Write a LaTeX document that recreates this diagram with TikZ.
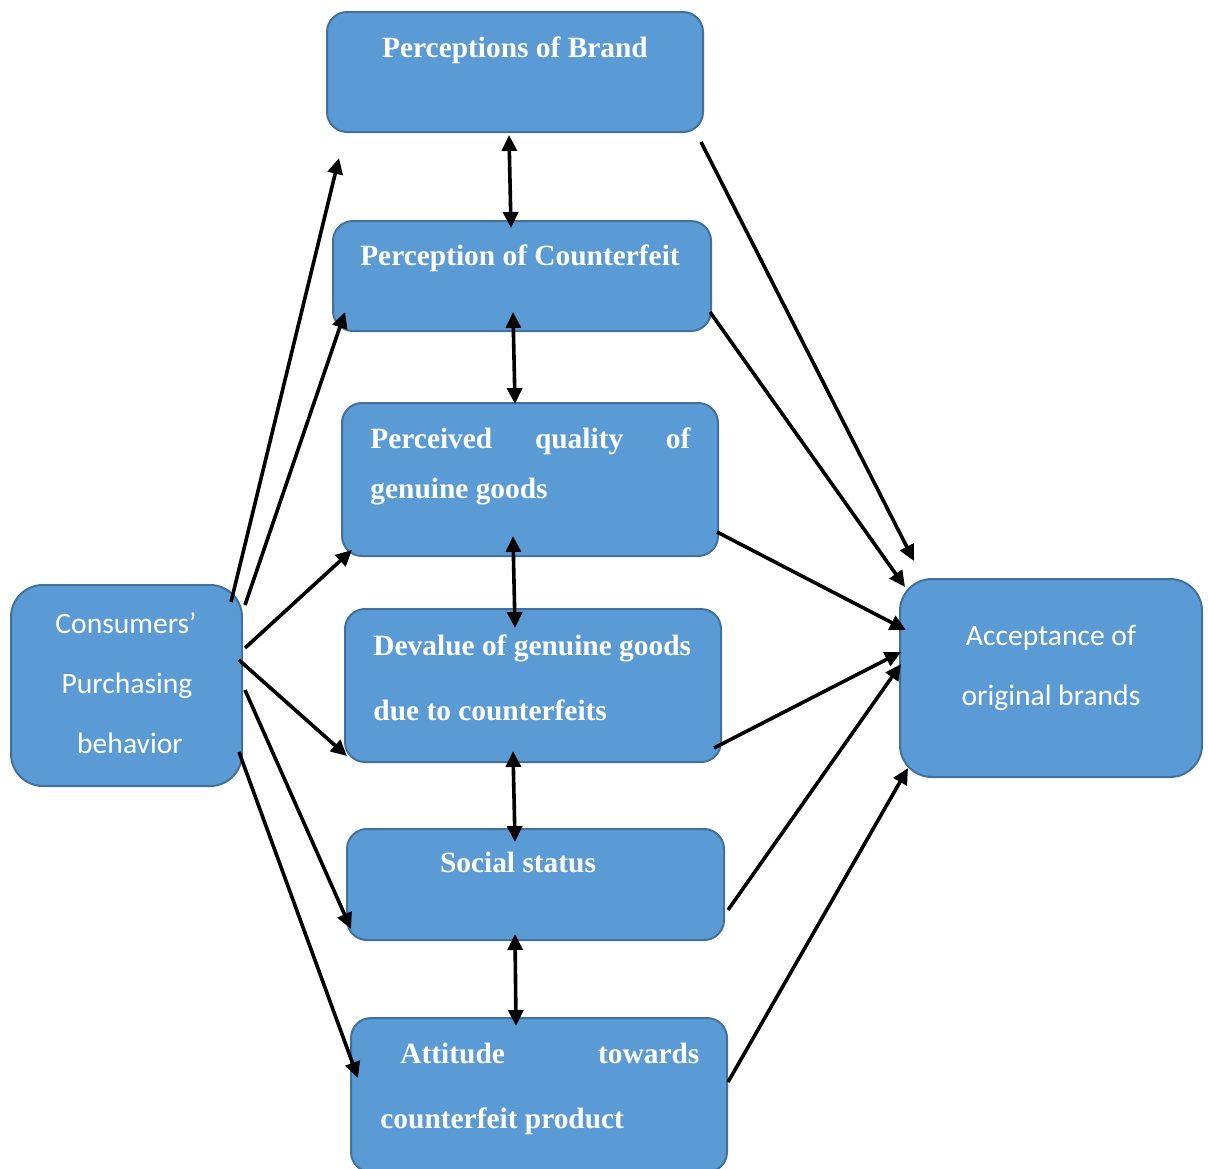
\documentclass[tikz,border=0pt]{standalone}
\usepackage{fontspec}
\setmainfont{Liberation Serif}
\newfontfamily\calibri{Carlito}
\usetikzlibrary{arrows.meta,calc}

\definecolor{boxfill}{HTML}{5B9BD5}
\definecolor{boxline}{HTML}{41719C}

\tikzset{
    box/.style={draw=boxline, line width=1pt, fill=boxfill, rounded corners=10pt, inner sep=0pt},
    bigbox/.style={box, rounded corners=16pt},
    txt/.style={text=white, font=\fontsize{14.7}{17}\selectfont\bfseries, inner sep=0pt},
    stxt/.style={text=white, font=\calibri\fontsize{14.8}{17}\selectfont, inner sep=0pt},
    conn/.style={line width=1.8pt, -{Triangle[length=8pt,width=7.5pt]}},
    biconn/.style={conn, {Triangle[length=8pt,width=7.5pt]}-{Triangle[length=8pt,width=7.5pt]}},
}

\begin{document}
\begin{tikzpicture}[x=0.5pt, y=-0.5pt]
    \useasboundingbox (0,0) rectangle (1208,1168);

    % Kaesten in der Mitte
    \node[box, minimum width=188pt, minimum height=60pt]   (brand)  at (515,72)      {};
    \node[box, minimum width=189pt, minimum height=55pt]   (cntf)   at (522,276)     {};
    \node[box, minimum width=188pt, minimum height=76.5pt] (qual)   at (530,479.5)   {};
    \node[box, minimum width=188pt, minimum height=76.5pt] (deval)  at (533,685.5)   {};
    \node[box, minimum width=188.5pt, minimum height=55.5pt] (social) at (535.5,884.5) {};
    \node[box, minimum width=188pt, minimum height=77pt]   (att)    at (539,1095)    {};

    % links und rechts
    \node[bigbox, minimum width=115.5pt, minimum height=100.5pt] (cpb) at (126.5,685.5) {};
    \node[bigbox, minimum width=151pt, minimum height=99pt]      (acc) at (1051,678)    {};

    % Beschriftungen
    \node[txt, anchor=base] (brand-t)  at (515,57)  {Perceptions of Brand};
    \node[txt, anchor=base] (cntf-t)   at (520,265) {Perception of Counterfeit};
    \node[txt, anchor=base west] (qual-t1) at (370,448) {\hbox to 160pt{Perceived\hfill quality\hfill of}};
    \node[txt, anchor=base west] (qual-t2) at (370,498) {genuine goods};
    \node[txt, anchor=base west] (deval-t1) at (373,655) {Devalue of genuine goods};
    \node[txt, anchor=base west] (deval-t2) at (373,720) {due to counterfeits};
    \node[txt, anchor=base] (social-t) at (518,872) {Social status};
    \node[txt, anchor=base west] (att-t1) at (400,1063) {\hbox to 149.5pt{Attitude\hfill towards}};
    \node[txt, anchor=base west] (att-t2) at (380,1128) {counterfeit product};

    \node[stxt, anchor=base] (cpb-t1) at (126,633) {Consumers’};
    \node[stxt, anchor=base] (cpb-t2) at (127,693) {Purchasing};
    \node[stxt, anchor=base] (cpb-t3) at (130,753) {behavior};
    \node[stxt, anchor=base] (acc-t1) at (1051,645) {Acceptance of};
    \node[stxt, anchor=base] (acc-t2) at (1051,705) {original brands};

    % Pfeile vom Kaufverhalten
    \draw[conn] ($(cpb.north east)+(-12,18)$) -- ($(brand.south west)+(13,25)$);
    \draw[conn] ($(cpb.north east)+(2,21)$)   -- ($(cntf.south west)+(13,-20)$);
    \draw[conn] ($(cpb.east)+(2,-37.5)$)      -- ($(qual.south west)+(11,-7)$);
    \draw[conn] ($(cpb.east)+(-4,-25.5)$)     -- ($(deval.south west)+(3,-7)$);
    \draw[conn] ($(cpb.east)+(2,4.5)$)        -- ($(social.south west)+(5,-12)$);
    \draw[conn] ($(cpb.east)+(-4,66.5)$)      -- ($(att.west)+(8,-17)$);

    % Pfeile zur Akzeptanz
    \draw[conn] ($(brand.south east)+(-3,9)$)   -- ($(acc.north west)+(15,-17)$);
    \draw[conn] ($(cntf.south east)+(-2,-20)$)  -- ($(acc.north west)+(6,9)$);
    \draw[conn] ($(qual.south east)+(-2,-25)$)  -- ($(acc.west)+(7,-48)$);
    \draw[conn] ($(deval.south east)+(-8,-15)$) -- ($(acc.west)+(2,-26)$);
    \draw[conn] ($(social.east)+(3,25.5)$)      -- ($(acc.west)+(2,-14)$);
    \draw[conn] ($(att.east)+(0,-13)$)          -- ($(acc.south west)+(9,-10)$);

    % Doppelpfeile zwischen den Kaesten
    \draw[biconn] ($(brand.south)+(-6,2)$)    -- ($(cntf.north)+(-11,8)$);
    \draw[biconn] ($(cntf.south)+(-9,-20)$)   -- ($(qual.north)+(-15,2)$);
    \draw[biconn] ($(qual.south)+(-17,-21)$)  -- ($(deval.north)+(-18,20)$);
    \draw[biconn] ($(deval.south)+(-20,-12)$) -- ($(social.north)+(-20.5,14)$);
    \draw[biconn] ($(social.south)+(-20.5,-7)$) -- ($(att.north)+(-23,9)$);
\end{tikzpicture}
\end{document}
